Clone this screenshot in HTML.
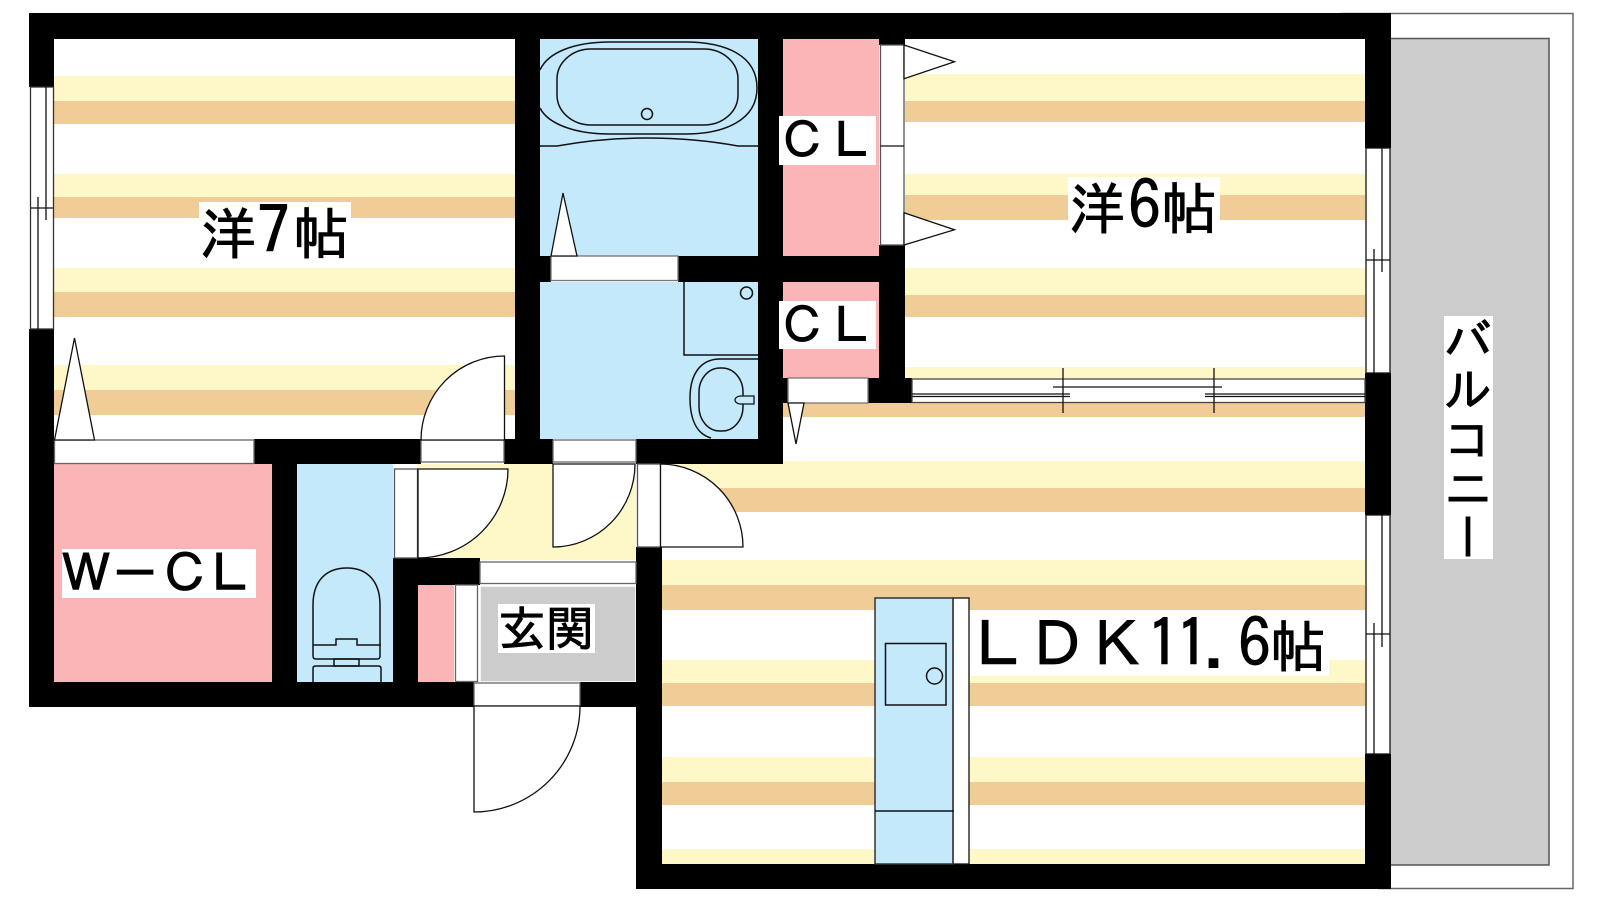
<!DOCTYPE html>
<html><head><meta charset="utf-8"><style>
html,body{margin:0;padding:0;background:#fff}
svg{display:block}
text{font-family:"IPAGothic","Liberation Sans","Noto Sans CJK JP",sans-serif;fill:#000;stroke:#000;stroke-width:.9}
</style></head><body>
<svg width="1600" height="900" viewBox="0 0 1600 900" xmlns="http://www.w3.org/2000/svg">
<rect width="1600" height="900" fill="#fff"/>
<!-- balcony -->
<path d="M1341,13.5H1573V888.500H1378" fill="#fff" stroke="#666" stroke-width="1.5"/>
<rect x="1388" y="38.500" width="161" height="826.500" fill="#ccc" stroke="#555" stroke-width="1.5"/>
<!-- stripes -->
<g fill="#fef8c8">
<rect x="54" y="76" width="461" height="25"/><rect x="54" y="174" width="461" height="23"/><rect x="54" y="268" width="461" height="24"/><rect x="54" y="365" width="461" height="25"/>
<rect x="905" y="74" width="460" height="27"/><rect x="905" y="174" width="460" height="21"/><rect x="905" y="268" width="460" height="27"/><rect x="905" y="367" width="460" height="11"/>
<rect x="662" y="461" width="703" height="27"/><rect x="662" y="560" width="703" height="25"/><rect x="662" y="660" width="703" height="23"/><rect x="662" y="757" width="703" height="25"/><rect x="662" y="849" width="703" height="15"/>
<rect x="417" y="464" width="219" height="96"/>
</g>
<g fill="#f0cc96">
<rect x="54" y="101" width="461" height="23"/><rect x="54" y="197" width="461" height="21"/><rect x="54" y="292" width="461" height="25"/><rect x="54" y="390" width="461" height="25"/>
<rect x="905" y="101" width="460" height="21"/><rect x="905" y="195" width="460" height="25"/><rect x="905" y="295" width="460" height="22"/><rect x="783" y="403" width="582" height="14"/>
<rect x="662" y="488" width="703" height="24"/><rect x="662" y="585" width="703" height="25"/><rect x="662" y="683" width="703" height="23"/><rect x="662" y="782" width="703" height="23"/>
</g>
<!-- rooms -->
<rect x="540" y="39" width="218" height="217" fill="#c3e9fb"/>
<rect x="540" y="282" width="218" height="157" fill="#c3e9fb"/>
<rect x="297" y="464" width="96" height="218" fill="#c3e9fb"/>
<rect x="875" y="598" width="78" height="266" fill="#c3e9fb"/>
<rect x="783" y="39" width="96" height="217" fill="#fbb5b7"/>
<rect x="783" y="282" width="96" height="96" fill="#fbb5b7"/>
<rect x="54" y="464" width="218" height="218" fill="#fbb5b7"/>
<rect x="418" y="585" width="36" height="97" fill="#fbb5b7"/>
<rect x="480" y="586" width="156" height="96" fill="#ccc" stroke="#fff" stroke-width="1.500"/>
<!-- walls -->
<g fill="#000">
<rect x="29" y="13" width="1362" height="26"/>
<rect x="29" y="13" width="25" height="74"/>
<rect x="29" y="329" width="25" height="378"/>
<rect x="29" y="682" width="445" height="25"/>
<rect x="580" y="682" width="56" height="25"/>
<rect x="272" y="464" width="25" height="218"/>
<rect x="393" y="558" width="25" height="124"/>
<rect x="393" y="558" width="87" height="3"/><rect x="417" y="560" width="63" height="25"/>
<rect x="254" y="439" width="167" height="25"/>
<rect x="504" y="439" width="49" height="25"/>
<rect x="636" y="439" width="147" height="25"/>
<rect x="515" y="39" width="25" height="400"/>
<rect x="540" y="256" width="11" height="26"/>
<rect x="678" y="256" width="227" height="26"/>
<rect x="758" y="39" width="25" height="425"/>
<rect x="783" y="378" width="5" height="25"/>
<rect x="879" y="39" width="26" height="6"/>
<rect x="879" y="245" width="26" height="133"/>
<rect x="868" y="378" width="44" height="25"/>
<rect x="1365" y="13" width="26" height="135"/>
<rect x="1365" y="373" width="26" height="142"/>
<rect x="1365" y="754" width="26" height="135"/>
<rect x="636" y="547" width="26" height="342"/>
<rect x="636" y="864" width="755" height="25"/>
</g>
<g fill="#fff" stroke="#111" stroke-width="1.300">
<!-- left window -->
<rect x="30.500" y="87" width="23" height="242" stroke="#333"/>
<path d="M46,87V220M38,197V329M31,208H53" fill="none"/>
<!-- right windows -->
<rect x="1366" y="148" width="24" height="225"/>
<path d="M1382,148V272M1374,249V373M1366,260H1390" fill="none"/>
<rect x="1366" y="515" width="24" height="239"/>
<path d="M1382,515V647M1374,623V754M1366,634H1390" fill="none"/>
<!-- horizontal window -->
<rect x="912" y="379" width="453" height="23.500" stroke="#444"/>
<path d="M1053,387H1222M912,394H1070M1205,394H1365M912,396.500H1070M1205,396.500H1365M1063,368V413M1214,368V413" fill="none"/>
<!-- door bands -->
<rect x="54.500" y="440" width="199.500" height="23.500" stroke="#666"/>
<rect x="421" y="440" width="83" height="22" stroke="#666"/>
<rect x="553" y="440" width="83" height="22" stroke="#666"/>
<rect x="551" y="256" width="127" height="24.500" stroke="#777"/>
<rect x="788" y="378" width="80" height="25" stroke="#777"/>
<rect x="880.500" y="45" width="23.500" height="200" stroke="#555"/>
<path d="M880.500,146H904" fill="none"/>
<rect x="394.500" y="469" width="23" height="89" stroke="#555"/>
<rect x="637.500" y="464" width="23" height="83" stroke="#555"/>
<rect x="480" y="562" width="156" height="21.500" stroke="#666"/>
<rect x="455.500" y="585" width="22" height="96.500" stroke="#666"/>
<rect x="474" y="683" width="106" height="23" stroke="#666"/>
<!-- triangles -->
<path d="M54.500,440L74.500,338L94.500,440Z"/>
<path d="M551,256L563,193L577,256Z"/>
<path d="M904,45L954.500,61.700L904,78.700Z"/>
<path d="M904,212.700L954.500,229.700L904,245Z"/>
<path d="M788,403L796,444L804,403Z"/>
<!-- doors -->
<path d="M421,440A83.500,84 0 0 1 504.500,356V440Z"/>
<path d="M418,469H508A90,89 0 0 1 418,558Z"/>
<path d="M553,464H635A82,83 0 0 1 553,547Z"/>
<path d="M660.500,464A83,83 0 0 1 743,547H660.500Z"/>
<path d="M474,706H580A106,106 0 0 1 474,812Z"/>
<!-- bath -->
<g fill="none" stroke-width="1.500">
<path d="M540,70C548,52 575,42 610,42H685C725,42 757,55 757,88C757,120 725,134 685,134H610C575,134 548,124 540,108"/>
<rect x="557" y="49" width="181" height="76" rx="34" ry="30"/>
<circle cx="647" cy="114" r="5.500"/>
<path d="M540,146H557C590,140 620,138 647,138C675,138 705,140 738,146H758"/>
<!-- washroom -->
<path d="M684,282V355H758"/>
<circle cx="746.500" cy="293" r="6"/>
<path d="M758,359H720C700,359 690,375 690,398C690,420 697,434 711,438"/>
<rect x="699" y="368" width="44" height="63" rx="21" ry="24"/>
<!-- toilet -->
<path d="M316,659Q313,659 313,656V605C313,582 325,568 347,568C368,568 380,582 380,605V656Q380,659 377,659Z"/>
<path d="M313,645H336V639H357V645H381"/>
<rect x="334" y="659" width="25" height="7"/>
<path d="M313,682V668Q313,666 316,666H378Q381,666 381,668V682"/>
</g>
<path d="M754,396H740Q735,397 735,400Q735,403 740,404H754Z" fill="#c3e9fb" stroke-width="1.300"/>
<!-- kitchen -->
<rect x="953" y="598" width="16" height="266"/>
<g fill="none" stroke-width="1.500">
<rect x="875" y="598" width="78" height="266" stroke="#333"/>
<rect x="885.500" y="643.500" width="60.500" height="61.500"/>
<circle cx="934.500" cy="676" r="8"/>
<path d="M875,811H954"/>
</g>
</g>
<!-- labels -->
<g fill="#fff">
<rect x="199" y="202" width="152" height="58"/>
<rect x="1068" y="177" width="152" height="58"/>
<rect x="779" y="116" width="97" height="49"/>
<rect x="779" y="301" width="97" height="48"/>
<rect x="62" y="549" width="194" height="49"/>
<rect x="498" y="604" width="97" height="49"/>
<rect x="970" y="610" width="359" height="66"/>
<rect x="1444" y="316" width="49" height="243"/>
</g>
<text font-size="56" y="254"><tspan x="200">洋</tspan><tspan x="257" font-size="66">7</tspan><tspan x="293">帖</tspan></text>
<text font-size="56" y="229"><tspan x="1069">洋</tspan><tspan x="1128" font-size="66">6</tspan><tspan x="1161">帖</tspan></text>
<text font-size="49" x="778 827" y="158">ＣＬ</text>
<text font-size="49" x="778 827" y="343">ＣＬ</text>
<text font-size="52" x="60 109 159 204" y="592">Ｗ－ＣＬ</text>
<text font-size="48" x="498 546" y="646">玄関</text>
<text y="667"><tspan font-size="62" x="967 1026 1086">ＬＤＫ</tspan><tspan font-size="66" x="1147 1176 1203 1238">11.6</tspan><tspan font-size="56" x="1270">帖</tspan></text>
<text font-size="48" x="1468" y="316" writing-mode="vertical-rl" letter-spacing="1">バルコニー</text>
</svg>
</body></html>
